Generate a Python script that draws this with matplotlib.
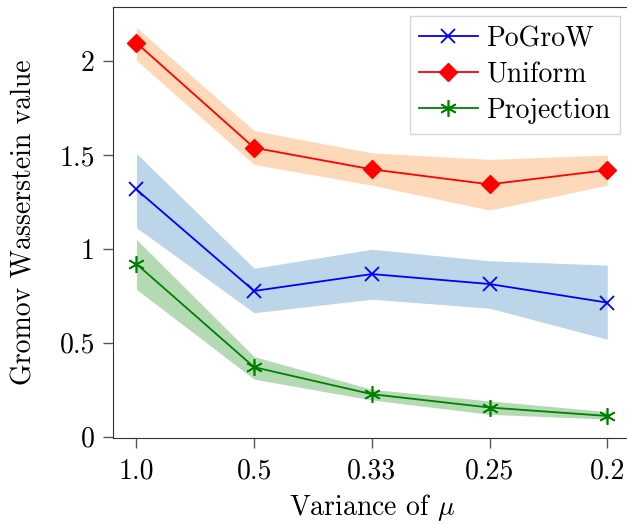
import numpy as np
import matplotlib
matplotlib.use("Agg")
import matplotlib.pyplot as plt

# variance of mu (categorical axis)
x_labels = ["1.0", "0.5", "0.33", "0.25", "0.2"]
y_ticks = [0, 0.5, 1, 1.5, 2]
y_tick_labels = ["0", "0.5", "1", "1.5", "2"]

pogrow = [1.317, 0.776, 0.866, 0.813, 0.714]
pogrow_lo = [1.113, 0.660, 0.732, 0.684, 0.519]
pogrow_hi = [1.509, 0.897, 0.998, 0.937, 0.914]

uniform = [2.098, 1.539, 1.424, 1.344, 1.420]
uniform_lo = [2.006, 1.450, 1.340, 1.207, 1.340]
uniform_hi = [2.180, 1.630, 1.512, 1.477, 1.500]

projection = [0.920, 0.370, 0.226, 0.155, 0.110]
projection_lo = [0.785, 0.306, 0.195, 0.119, 0.093]
projection_hi = [1.051, 0.426, 0.252, 0.190, 0.133]

plt.rcParams["font.family"] = "serif"
plt.rcParams["font.serif"] = ["cmr10", "DejaVu Serif"]
plt.rcParams["mathtext.fontset"] = "cm"
plt.rcParams["axes.unicode_minus"] = False

fig = plt.figure(figsize=(6.27, 5.24), dpi=100)
ax = fig.add_axes([0.18, 0.165, 0.826, 0.822])

xs = np.arange(len(x_labels))
series = [
    ("PoGroW", pogrow, pogrow_lo, pogrow_hi, "blue", "#bcd5e8", dict(marker="x", ms=10, mew=1.3)),
    ("Uniform", uniform, uniform_lo, uniform_hi, "red", "#fdd9b9", dict(marker="D", ms=9)),
    ("Projection", projection, projection_lo, projection_hi, "green", "#b3dab3",
     dict(marker=(6, 2, 0), ms=12, mew=1.2)),
]
handles = []
for name, y, lo, hi, col, fill, mk in series:
    ax.fill_between(xs, lo, hi, color=fill, lw=0, zorder=1)
    h, = ax.plot(xs, y, color=col, lw=1.3, mfc=col, mec=col, zorder=3, label=name, **mk)
    handles.append(h)

ax.set_xlim(-0.2, 4.2)
ax.set_ylim(-0.005, 2.29)
ax.set_xticks(xs)
ax.set_xticklabels(x_labels)
ax.set_yticks(y_ticks)
ax.set_yticklabels(y_tick_labels)
ax.tick_params(labelsize=20, length=7, color="#555555", width=1)
ax.tick_params(axis="y", pad=6)
ax.tick_params(axis="x", pad=8)
for s in ax.spines.values():
    s.set_color("#333333")
ax.set_xlabel(r"Variance of $\mu$", fontsize=20, labelpad=5)
ax.set_ylabel("Gromov Wasserstein value", fontsize=20, labelpad=16)

leg = ax.legend(handles=handles, loc="upper right", bbox_to_anchor=(620 / 627, 1 - 16 / 524),
                bbox_transform=fig.transFigure, borderaxespad=0, fontsize=20, fancybox=False,
                handlelength=2.1, handletextpad=0.3, labelspacing=0.35, borderpad=0.35)
leg.get_frame().set_edgecolor("#cccccc")

fig.savefig("out.png", dpi=100)
